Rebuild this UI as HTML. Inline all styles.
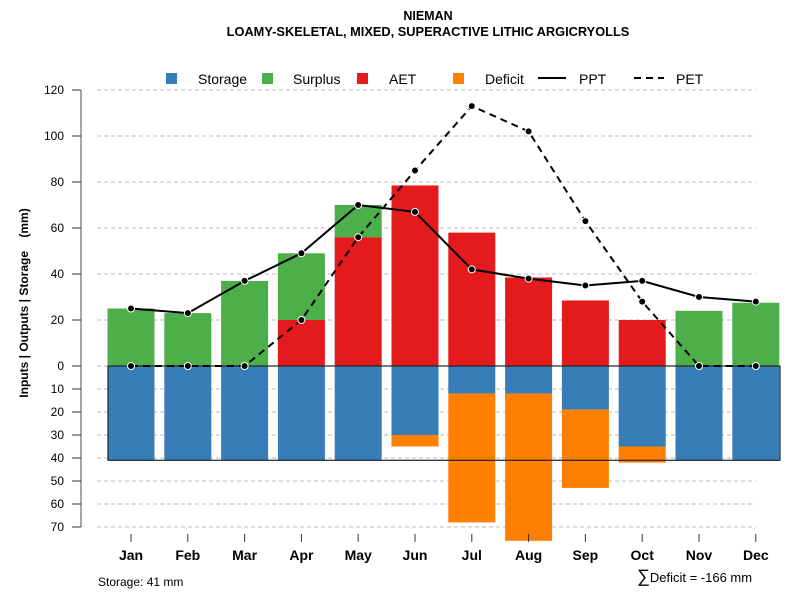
<!DOCTYPE html>
<html><head><meta charset="utf-8"><style>
body{margin:0;background:#fff}
svg{font-family:"Liberation Sans",Arial,sans-serif}
</style></head><body>
<svg id="c" width="800" height="600" xmlns="http://www.w3.org/2000/svg">
<text x="428" y="20" text-anchor="middle" font-size="12.5" font-weight="bold">NIEMAN</text>
<text x="428" y="36" text-anchor="middle" font-size="12.8" font-weight="bold">LOAMY-SKELETAL, MIXED, SUPERACTIVE LITHIC ARGICRYOLLS</text>
<text transform="translate(28,303) rotate(-90)" text-anchor="middle" font-size="12" font-weight="bold" style="white-space:pre">Inputs | Outputs | Storage    (mm)</text>
<text x="98" y="586" font-size="12">Storage: 41 mm</text>
<text x="637" y="582" font-size="13"><tspan font-size="18">∑</tspan>Deficit = -166 mm</text>
<g id="legend">
<rect x="166" y="73" width="11" height="11" fill="#377EB8"/>
<text x="198" y="84" font-size="14">Storage</text>
<rect x="262" y="73" width="11" height="11" fill="#4DAF4A"/>
<text x="293" y="84" font-size="14">Surplus</text>
<rect x="357" y="73" width="11" height="11" fill="#E41A1C"/>
<text x="389" y="84" font-size="14">AET</text>
<rect x="453" y="73" width="11" height="11" fill="#FF7F00"/>
<text x="485" y="84" font-size="14">Deficit</text>
<line x1="538" y1="78" x2="566" y2="78" stroke="#000" stroke-width="2"/>
<text x="579" y="84" font-size="14">PPT</text>
<line x1="634" y1="78" x2="664" y2="78" stroke="#000" stroke-width="2" stroke-dasharray="7,5"/>
<text x="676" y="84" font-size="14">PET</text>
</g>
</svg>
<script>
const months=["Jan","Feb","Mar","Apr","May","Jun","Jul","Aug","Sep","Oct","Nov","Dec"];
const storage=[41,41,41,41,41,30,12,12,19,35,41,41];
const deficit=[0,0,0,0,0,5,56,64,34,7,0,0];
const aet=[0,0,0,20,56,78.5,58,38.5,28.5,20,0,0];
const surplus=[25,23,37,29,14,0,0,0,0,0,24,27.5];
const ppt=[25,23,37,49,70,67,42,38,35,37,30,28];
const pet=[0,0,0,20,56,85,113,102,63,28,0,0];
const posTicks=[0,20,40,60,80,100,120];
const negTicks=[10,20,30,40,50,60,70];
const storageCap=41;
const NS="http://www.w3.org/2000/svg",svg=document.getElementById('c');
const y0=366,k=2.3;
const yP=v=>y0-v*k, yN=v=>y0+v*k;
const x=i=>131+i*56.8;
const bw=47;
function el(t,a,p){const e=document.createElementNS(NS,t);for(const n in a)e.setAttribute(n,a[n]);(p||svg).appendChild(e);return e;}
const grid=el('g',{});


const yax=el('g',{});


el('line',{x1:81,y1:yP(posTicks[posTicks.length-1]),x2:81,y2:yN(negTicks[negTicks.length-1]),stroke:'#888','stroke-width':1.5},yax);
function tick(yy,lab){
 const g=el('line',{x1:97,y1:yy,x2:756,y2:yy,stroke:'#bbb','stroke-dasharray':'4,3'},grid);
 
 
 el('line',{x1:72,y1:yy,x2:81,y2:yy,stroke:'#333'},yax);
 const t=el('text',{x:64,y:yy+4,'text-anchor':'end','font-size':12},yax);
 
 
 t.textContent=lab;
}
posTicks.forEach(v=>tick(yP(v),v));
negTicks.forEach(v=>tick(yN(v),v));
const bars=el('g',{});


function bar(i,a,b,c,name){
 if(Math.abs(b-a)<0.01)return;
 const r=el('rect',{x:x(i)-bw/2,y:Math.min(a,b),width:bw,height:Math.abs(b-a),fill:c},bars);
 
 
}
months.forEach((m,i)=>{
 bar(i,yN(0),yN(storage[i]),'#377EB8','bar-storage-'+m.toLowerCase());
 bar(i,yN(storage[i]),yN(storage[i]+deficit[i]),'#FF7F00','bar-deficit-'+m.toLowerCase());
 bar(i,yP(0),yP(aet[i]),'#E41A1C','bar-aet-'+m.toLowerCase());
 bar(i,yP(aet[i]),yP(aet[i]+surplus[i]),'#4DAF4A','bar-surplus-'+m.toLowerCase());
});
const box=el('rect',{x:108,y:y0,width:672,height:storageCap*k,fill:'none',stroke:'#222','stroke-width':1.2});


function series(arr,dash,name){
 const p=el('polyline',{points:arr.map((v,i)=>x(i)+','+yP(v)).join(' '),fill:'none',stroke:'#000','stroke-width':2,'stroke-dasharray':dash});
 
 
 arr.forEach((v,i)=>{
  const c=el('circle',{cx:x(i),cy:yP(v),r:3.5,fill:'#000',stroke:'#fff','stroke-width':1});
  
  
 });
}
series(pet,'7,5','pet');
series(ppt,'none','ppt');
const xax=el('g',{});


months.forEach((m,i)=>{
 el('line',{x1:x(i),y1:534,x2:x(i),y2:542,stroke:'#333'},xax);
 const t=el('text',{x:x(i),y:560,'text-anchor':'middle','font-size':14,'font-weight':'bold'},xax);
 
 
 t.textContent=m;
});
</script>
</body></html>
